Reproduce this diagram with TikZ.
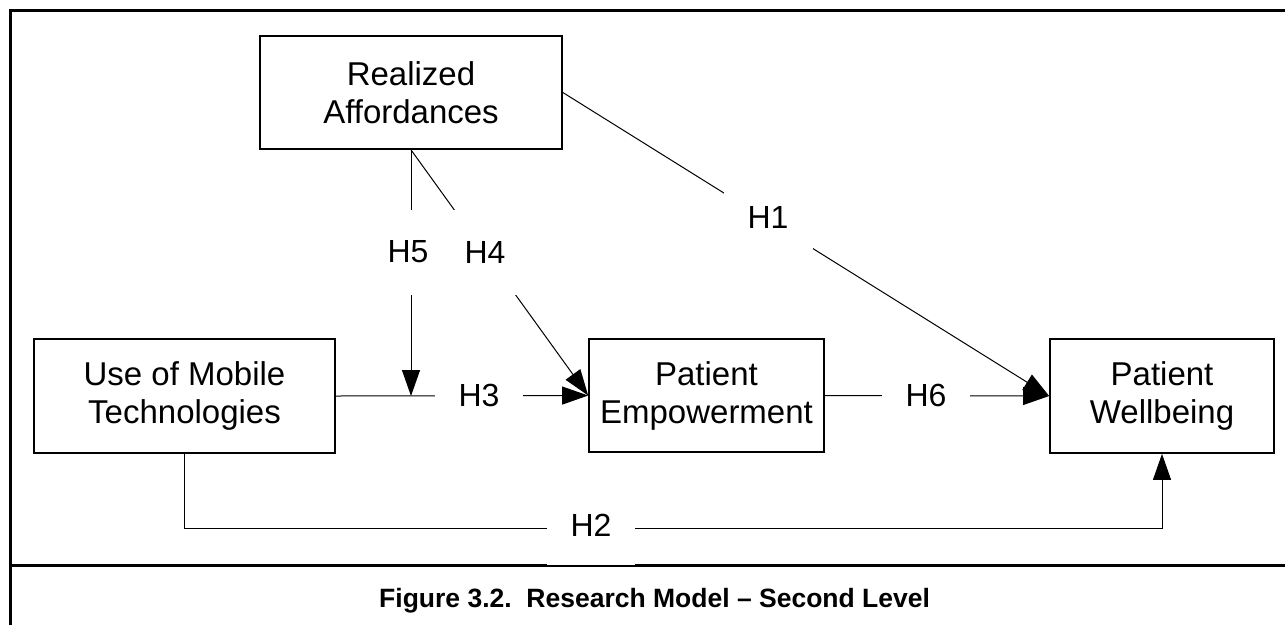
\documentclass[tikz,border=0pt]{standalone}
\usepackage{fontspec}
\setmainfont{Liberation Sans}
\usetikzlibrary{arrows.meta}
\begin{document}
\begin{tikzpicture}[x=1pt,y=-1pt,
  construct/.style={draw, line width=1.7pt, fill=white, align=center, inner sep=0pt,
    font=\fontsize{33}{38}\selectfont},
  hyp/.style={fill=white, inner sep=0pt, font=\fontsize{32}{36}\selectfont},
  link/.style={line width=1pt, -{Triangle[length=26pt,width=18pt]}},
  frameline/.style={line width=3pt}]
\useasboundingbox (0,0) rectangle (1285,625);

% outer frame and caption divider
\draw[frameline] (10,625) -- (10,10) -- (1285,10);
\draw[frameline] (10,565) -- (1285,565);

% constructs
\node[construct, minimum width=302pt, minimum height=113pt] (RA) at (411,92.5) {Realized\\Affordances};
\node[construct, minimum width=301pt, minimum height=114pt] (UM) at (184.5,396) {Use of Mobile\\Technologies};
\node[construct, minimum width=235pt, minimum height=113pt] (PE) at (706.5,395.5) {Patient\\Empowerment};
\node[construct, minimum width=224pt, minimum height=114pt] (PW) at (1162,396) {Patient\\Wellbeing};

% helper points
\coordinate (h2y) at (0,528);
\coordinate (h5end) at (RA.south |- UM.east);

% hypothesised paths
\draw[link] (RA.east) -- (PW.west);
\draw[link] (UM.south) -- (UM.south |- h2y) -- (PW.south |- h2y) -- (PW.south);
\draw[link] (UM.east) -- (PE.west);
\draw[link] (RA.south) -- (PE.west);
\draw[link] (RA.south) -- (h5end);
\draw[link] (PE.east) -- (PW.west);

% path labels (white boxes break the lines)
\node[hyp, minimum width=89pt, minimum height=64pt] (h1) at (768,217) {H1};
\node[hyp, minimum width=88pt, minimum height=80pt] (h2) at (591,525) {H2};
\node[hyp, minimum width=88pt] (h3) at (479,395) {H3};
\node[hyp, minimum width=64pt, minimum height=85pt] (h4) at (485,252) {H4};
\node[hyp, minimum width=50pt, minimum height=85pt] (h5) at (408,252) {H5};
\node[hyp, minimum width=88pt] (h6) at (926,395) {H6};

% caption
\node[anchor=base west, inner sep=0pt, font=\bfseries\fontsize{26.5}{30}\selectfont] (cap) at (379,607)
  {Figure 3.2.\ \ Research Model – Second Level};
\end{tikzpicture}
\end{document}
